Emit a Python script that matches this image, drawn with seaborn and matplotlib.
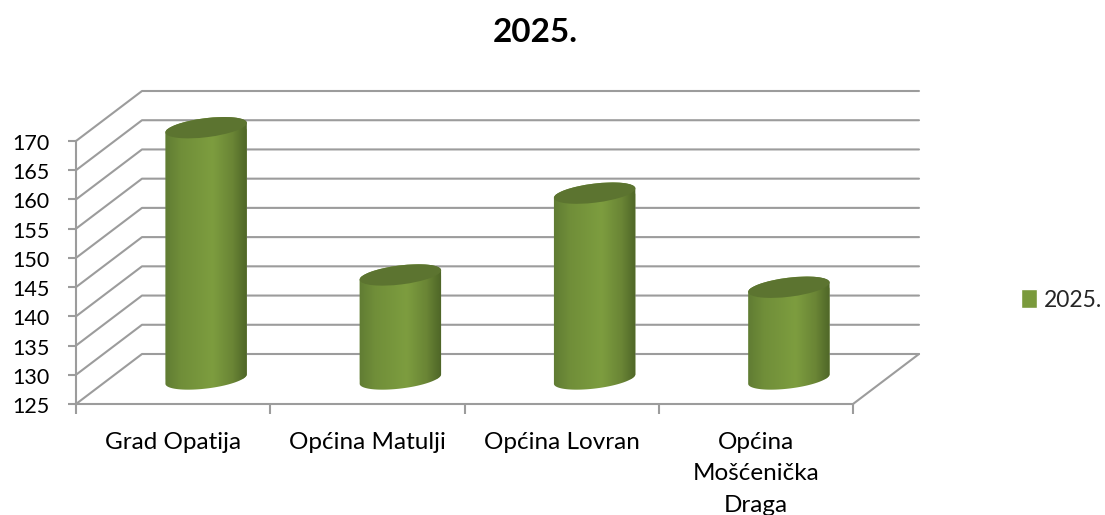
import numpy as np
import pandas as pd
import matplotlib
matplotlib.use("Agg")
import matplotlib.pyplot as plt
import seaborn as sns
from matplotlib.colors import LinearSegmentedColormap
from matplotlib.patches import Ellipse
from matplotlib.path import Path
from matplotlib.transforms import Affine2D, IdentityTransform

categories = ["Grad Opatija", "Općina Matulji", "Općina Lovran", "Općina\nMošćenička\nDraga"]
values = [168, 142.8, 156.8, 140.7]
series_name = "2025."
y_ticks = [125, 130, 135, 140, 145, 150, 155, 160, 165, 170]

sns.set_theme(style="white")
plt.rcParams["font.family"] = ["Lato", "DejaVu Sans"]

W, H = 1105, 515
DEPTH_X, DEPTH_Y = 66, 50   # 3d depth of the chart box, in pixels
GREY = "#9c9c9c"
GREEN = "#7a9a3c"
LW = 1.5

fig = plt.figure(figsize=(W / 100, H / 100), dpi=100)
ax = fig.add_axes([76 / W, 1 - 404 / H, 777 / W, 263 / H])
ax.patch.set_alpha(0)

df = pd.DataFrame({"category": categories, "value": values})
sns.barplot(data=df, x="category", y="value", ax=ax, color=GREEN, saturation=1,
            width=82 / 194.25, label=series_name)
ax.set_xlim(-0.5, 3.5)
ax.set_ylim(y_ticks[0], y_ticks[-1])
ax.set_autoscale_on(False)
ax.set_xlabel("")
ax.set_ylabel("")
ax.set_title("")

# axis lines and ticks
for side in ["top", "right"]:
    ax.spines[side].set_visible(False)
for side in ["left", "bottom"]:
    ax.spines[side].set_color(GREY)
    ax.spines[side].set_linewidth(LW)
ax.set_yticks(y_ticks)
ax.tick_params(axis="y", length=6, width=LW, color=GREY, labelsize=15.5, pad=5,
               left=True, labelcolor="black")
ax.set_xticks(np.arange(-0.5, 4, 1), minor=True)
ax.tick_params(axis="x", which="minor", length=7, width=LW, color=GREY, bottom=True)
ax.tick_params(axis="x", which="major", length=0, labelsize=17.5, pad=20, labelcolor="black")
for lab in ax.get_xticklabels():
    lab.set_linespacing(1.62)
nudge = Affine2D().translate(-11, -3)
for tick in ax.yaxis.get_major_ticks():
    tick.label1.set_verticalalignment("center")
    tick.label1.set_transform(tick.label1.get_transform() + nudge)

# back wall and side wall lines
px = IdentityTransform()
fig.canvas.draw()
for v in y_ticks:
    x0, y0 = ax.transData.transform((-0.5, v))
    x1, _ = ax.transData.transform((3.5, v))
    ax.plot([x0, x0 + DEPTH_X, x1 + DEPTH_X], [y0, y0 + DEPTH_Y, y0 + DEPTH_Y],
            color=GREY, lw=LW, transform=px, clip_on=False, zorder=1)
x0, y0 = ax.transData.transform((3.5, y_ticks[0]))
ax.plot([x0, x0 + DEPTH_X], [y0, y0 + DEPTH_Y], color=GREY, lw=LW, transform=px,
        clip_on=False, zorder=1)

# turn the flat bars into cylinders standing in the middle of the box
shift = Affine2D().translate(DEPTH_X / 2, DEPTH_Y / 2)
shade = LinearSegmentedColormap.from_list(
    "cyl", [(0, "#5f7b33"), (0.2, "#708e39"), (0.58, "#7d9d3f"), (0.82, "#6a8535"), (1, "#4d6427")])
tilt = np.radians(7)
minor = 9.5


def ring(cx, cy, a, b, t):
    xs = cx + a * np.cos(t) * np.cos(tilt) - b * np.sin(t) * np.sin(tilt)
    ys = cy + a * np.cos(t) * np.sin(tilt) + b * np.sin(t) * np.cos(tilt)
    return np.column_stack([xs, ys])


for bar, v in zip(ax.patches, values):
    bar.set_y(y_ticks[0])
    bar.set_height(v - y_ticks[0])
    left, base = (ax.transData + shift).transform((bar.get_x(), y_ticks[0]))
    right, top = (ax.transData + shift).transform((bar.get_x() + bar.get_width(), v))
    cx = (left + right) / 2
    major = (right - left) / 2
    upper = ring(cx, top, major, minor, np.linspace(0, np.pi, 60))
    lower = ring(cx, base, major, minor, np.linspace(np.pi, 2 * np.pi, 60))
    outline = Path(np.vstack([upper, lower, upper[:1]]), closed=True)
    bar.set_transform(ax.transData + shift)
    bar.set_clip_box(fig.bbox)
    bar.set_clip_path(outline, px)
    im = ax.imshow(np.linspace(0, 1, 200).reshape(1, -1), cmap=shade, aspect="auto",
                   extent=(left - 1, right + 1, base - minor - 2, top + minor + 2),
                   transform=px, zorder=3)
    im.set_clip_box(fig.bbox)
    im.set_clip_path(outline, px)
    ax.add_patch(Ellipse((cx, top), 2 * major, 2 * minor, angle=7, transform=px,
                         facecolor="#5c7430", edgecolor="none", zorder=4, clip_on=False))

ax.set_xlim(-0.5, 3.5)
ax.set_ylim(y_ticks[0], y_ticks[-1])

leg = ax.legend(loc="center left", bbox_to_anchor=(1021 / W, 1 - 300 / H),
                bbox_transform=fig.transFigure, frameon=False, fontsize=16.5,
                handlelength=0.68, handleheight=0.85, handletextpad=0.3, borderpad=0, borderaxespad=0)
fig.text(535 / W, 1 - 33 / H, series_name, ha="center", va="center", fontsize=24,
         fontweight="bold", color="black")

fig.savefig("out.png", dpi=100)
